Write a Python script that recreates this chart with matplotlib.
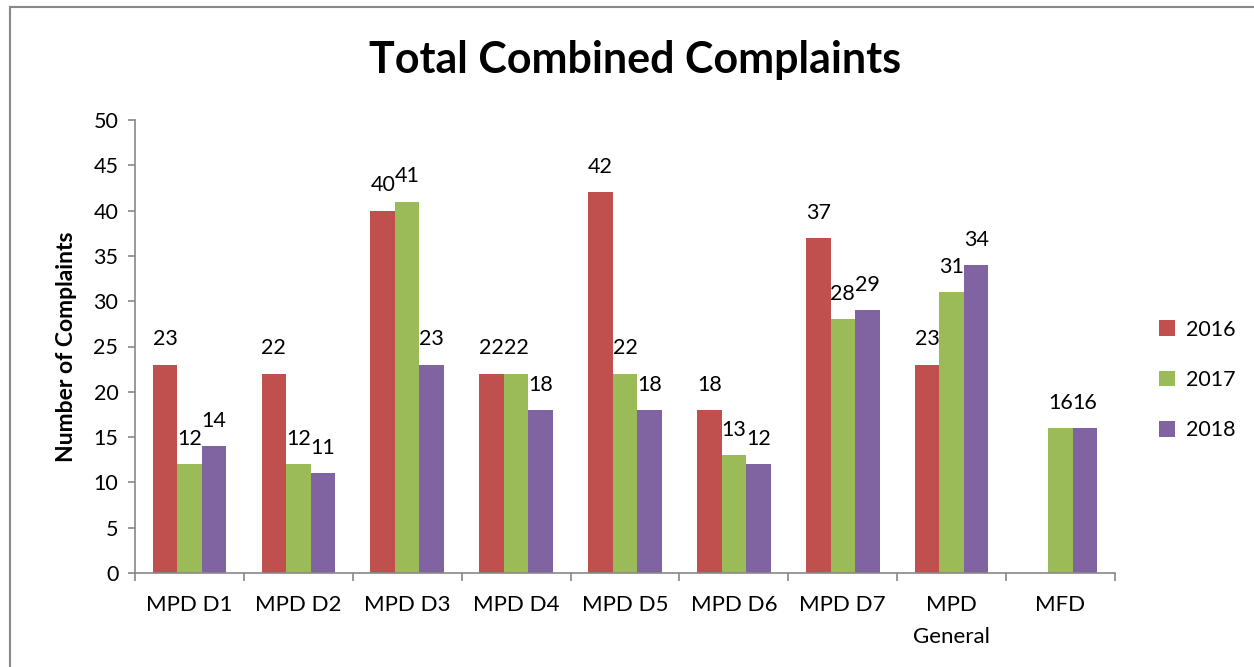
import matplotlib
matplotlib.use("Agg")
import matplotlib.pyplot as plt
import numpy as np
from matplotlib.patches import Rectangle

categories = ["MPD D1", "MPD D2", "MPD D3", "MPD D4", "MPD D5", "MPD D6", "MPD D7", "MPD\nGeneral", "MFD"]
years = ["2016", "2017", "2018"]
v2016 = [23, 22, 40, 22, 42, 18, 37, 23, None]
v2017 = [12, 12, 41, 22, 22, 13, 28, 31, 16]
v2018 = [14, 11, 23, 18, 18, 12, 29, 34, 16]
colors = ["#C0504D", "#9BBB59", "#8064A2"]

plt.rcParams['font.family'] = ['Lato', 'DejaVu Sans']

fig = plt.figure(figsize=(12.54, 6.67), dpi=100)
ax = fig.add_axes([135/1254, 1-573/667, (1115-135)/1254, (573-120)/667])

x = np.arange(len(categories))
w = 0.225
series = [v2016, v2017, v2018]
handles = []
for i, (vals, c, yr) in enumerate(zip(series, colors, years)):
    xs = [xi + (i-1)*w for xi, v in zip(x, vals) if v is not None]
    vs = [v for v in vals if v is not None]
    b = ax.bar(xs, vs, width=w, color=c, label=yr)
    handles.append(b)
    for xx, vv in zip(xs, vs):
        ax.annotate(str(vv), (xx, vv), xytext=(0, 11), textcoords="offset points",
                    ha="center", va="bottom", fontsize=15.5)

ax.set_xlim(-0.5, len(categories)-0.5)
ax.set_ylim(0, 50)
ax.set_yticks(np.arange(0, 51, 5))
ax.set_xticks(x)
ax.set_xticklabels(categories, fontsize=16, linespacing=1.75)
ax.set_xticks(np.arange(-0.5, len(categories), 1), minor=True)
ax.tick_params(axis='x', which='major', length=0, pad=16)
ax.tick_params(axis='x', which='minor', length=6, color='#888888', width=1.2)
ax.tick_params(axis='y', length=5, color='#888888', width=1.2, labelsize=15.5, pad=7)
for s in ['top', 'right']:
    ax.spines[s].set_visible(False)
for s in ['left', 'bottom']:
    ax.spines[s].set_color('#888888')
    ax.spines[s].set_linewidth(1.2)

ax.set_ylabel("Number of Complaints", fontsize=16.5, fontweight='bold', labelpad=12)
fig.text(635/1254, 1-60/667, "Total Combined Complaints", ha='center', va='center',
         fontsize=31, fontweight='bold')

ax.legend(handles=handles, loc='center left', bbox_to_anchor=(1.025, (573-380)/453),
          frameon=False, fontsize=15.5, handlelength=0.75, handleheight=0.75, labelspacing=1.4,
          handletextpad=0.5)

fig.patches.append(Rectangle((10/1254, -0.5), 1.5, 1.5-7/667, transform=fig.transFigure,
                             fill=False, edgecolor='#888888', linewidth=1.5))

fig.savefig("out.png", dpi=100)
